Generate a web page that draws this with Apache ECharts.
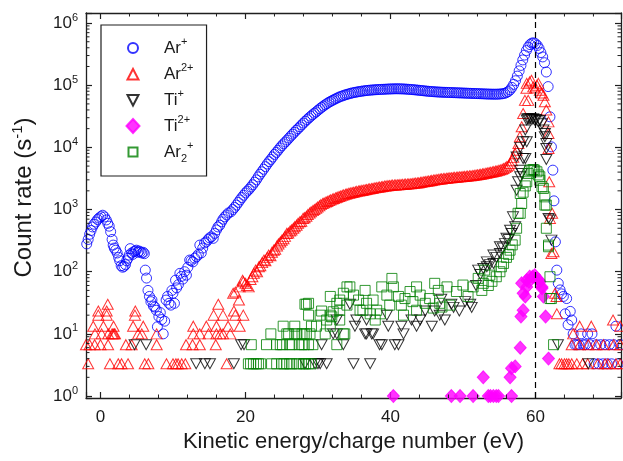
<!DOCTYPE html>
<html><head><meta charset="utf-8">
<script src="https://cdn.jsdelivr.net/npm/echarts@6/dist/echarts.min.js"></script>
<style>html,body{margin:0;padding:0;background:#fff}#c{width:623px;height:461px}</style>
</head><body><div id="c"></div>
<script>
// ---------- DATA (x = kinetic energy/charge, eV ; y = count rate, s^-1) ----------
const seriesNames = ['Ar+', 'Ar2+', 'Ti+', 'Ti2+', 'Ar2_+'];
const legendLabels = {'Ar+':'Ar{sup|+}','Ar2+':'Ar{sup|2+}','Ti+':'Ti{sup|+}','Ti2+':'Ti{sup|2+}','Ar2_+':'Ar{sub|2}{sup|+}'};
const xTickLabels = [0, 20, 40, 60];
const yTickExponents = [0, 1, 2, 3, 4, 5, 6];
const xMinorTicks = [4,8,12,16,24,28,32,36,44,48,52,56,64,68];
const yMinorTicks = [2,3,4,5,6,7,8,9,20,30,40,50,60,70,80,90,200,300,400,500,600,700,800,900,
  2000,3000,4000,5000,6000,7000,8000,9000,20000,30000,40000,50000,60000,70000,80000,90000,
  200000,300000,400000,500000,600000,700000,800000,900000];
const peakMarker = 60;

const arPlus = [
[-1.9,280],[-1.7,330],[-1.5,400],[-1.3,460],[-1.1,525],[-0.9,580],[-0.65,630],[-0.4,690],[-0.2,730],[0.05,770],
[0.3,810],[0.55,760],[0.8,680],[1.0,600],[1.2,540],[1.4,440],[1.6,330],[1.75,268],[1.9,240],[2.1,222],
[2.3,200],[2.5,170],[2.65,150],[2.85,125],[3.05,118],[3.25,122],[3.45,130],[3.6,150],[3.8,165],[3.95,185],
[4.1,235],[4.3,200],[4.45,190],[4.6,210],[4.8,215],[4.95,222],[5.15,205],[5.3,215],[5.5,209],[5.7,200],
[5.9,205],[6.05,195],[6.18,106],[6.35,79],[6.55,50],[6.75,40],[6.95,33],[7.1,35],[7.3,28],[7.5,27],
[7.7,24],[7.85,13],[8.05,19],[8.25,22],[8.45,17],[8.65,10],[8.85,16],[9.05,35],[9.25,40],[9.45,31],
[9.7,29],[9.85,50],[10.0,45],[10.2,31],[10.35,73],[10.5,55],[10.75,62],[10.95,94],[11.15,84],[11.35,76],
[11.6,100],[11.85,88],[12.05,118],[12.3,154],[12.5,150],[12.75,144],[13.0,165],[13.25,174],[13.5,190],[13.7,268],
[13.9,200],[14.1,240],[14.35,290],[14.6,302],[14.85,330],[15.05,350],[15.3,364],[15.55,344],[15.75,413],[16.0,470],
[16.2,525],[16.45,560],[16.7,635],[16.9,700],[17.15,763],[17.4,820],[17.65,880],
[18.0,920],[18.25,1000],[18.5,1080],[18.75,1180],[19.0,1300],[19.25,1430],[19.5,1560],[19.75,1700],[20.0,1850],[20.25,1980],
[20.5,2120],[20.75,2300],[21.0,2500],[21.25,2750],[21.5,3000],[21.75,3350],[22.0,3700],[22.25,4050],[22.5,4450],[22.75,4900],
[23.0,5400],[23.25,5900],[23.5,6400],[23.75,7000],[24.0,7700],[24.25,8300],[24.5,9000],[24.75,9800],[25.0,10600],[25.25,11400],
[25.5,12200],[25.75,13100],[26.0,14100],[26.25,15200],[26.5,16300],[26.75,17500],[27.0,18800],[27.25,20000],[27.5,21400],[27.75,23000],
[28.0,24600],[28.25,26300],[28.5,28000],[28.75,29800],[29.0,31600],[29.25,33500],[29.5,35400],[29.75,37300],[30.0,39500],[30.25,41800],
[30.5,44000],[30.75,46200],[31.0,48500],[31.25,50700],[31.5,53000],[31.75,55000],[32.0,57000],[32.25,59000],[32.5,61000],[32.75,63000],
[33.0,65000],[33.25,66600],[33.5,68200],[33.75,69800],[34.0,71200],[34.25,72600],[34.5,74000],[34.75,75200],[35.0,76300],[35.25,77300],
[35.5,78200],[35.75,79100],[36.0,80000],[36.25,80800],[36.5,81500],[36.75,82200],[37.0,82800],[37.25,83300],[37.5,83800],[37.75,84200],
[38.0,84600],[38.25,85000],[38.5,85300],[38.75,85600],[39.0,85900],[39.25,86200],[39.5,86500],[39.75,86800],[40.0,87000],[40.25,87200],
[40.5,87400],[40.75,87500],[41.0,87500],[41.25,87400],[41.5,87200],[41.75,87000],[42.0,86700],[42.25,86300],[42.5,85900],[42.75,85400],
[43.0,84900],[43.25,84400],[43.5,83900],[43.75,83300],[44.0,82700],[44.25,82100],[44.5,81500],[44.75,80900],[45.0,80300],[45.25,79800],
[45.5,79300],[45.75,78900],[46.0,78500],[46.25,78100],[46.5,77800],[46.75,77500],[47.0,77200],[47.25,77000],[47.5,76800],[47.75,76600],
[48.0,76400],[48.25,76200],[48.5,76000],[48.75,75800],[49.0,75600],[49.25,75400],[49.5,75200],[49.75,75000],[50.0,74800],[50.25,74600],
[50.5,74400],[50.75,74200],[51.0,74000],[51.25,73800],[51.5,73600],[51.75,73400],[52.0,73200],[52.25,73000],[52.5,72800],[52.75,72600],
[53.0,72400],[53.25,72200],[53.5,72000],[53.75,71900],[54.0,71800],[54.25,71700],[54.5,71700],[54.75,71800],[55.0,72000],[55.25,72400],
[55.5,73000],[55.75,74000],[56.0,76000],[56.25,79000],[56.5,84000],[56.75,92000],[57.0,103000],[57.25,118000],[57.5,140000],[57.75,170000],
[58.0,208000],[58.25,255000],[58.5,305000],[58.75,360000],[59.0,410000],[59.25,450000],[59.5,475000],[59.75,480000],[60.0,465000],[60.25,435000],
[60.5,390000],[60.75,335000],[61.0,285000],[61.25,230000],[61.5,163000],[61.75,95000],[62.0,31000],[62.2,10200],[62.4,4300],[62.55,1380],
[62.75,302],[62.95,106],[63.15,65],[63.4,51],[63.6,44],[63.85,40],[64.1,21],[64.3,37],[64.5,14],[64.8,23],
[65.0,16.7],[65.2,10],[65.45,6.7],[65.7,6.7],[66.0,6.7],[66.3,10],[66.6,6.7],[66.9,6.7],[67.2,10],[67.5,6.7],
[67.8,10],[68.1,3.3],[68.4,6.7],[68.7,3.3],[69.0,6.7],[69.3,3.3],[69.6,6.7],[69.9,3.3],[70.2,6.7],[70.5,3.3],
[70.8,6.7],[71.1,13.3],[71.4,3.3],[71.7,6.7]
];

const ar2Plus = [
[-2.0,6.7],[-1.7,3.3],[-1.5,6.7],[-1.0,13.3],[-0.8,6.7],[-0.76,10],[-0.3,20],[-0.3,23.3],[0.0,6.7],[0.16,10],
[0.4,13.3],[0.85,20],[0.85,23.3],[1.05,6.7],[1.08,10],[1.0,30],[1.3,3.3],[1.6,10],[1.75,10],[1.8,13.3],
[1.9,10],[2.0,10],[2.45,3.3],[2.9,3.3],[3.5,6.7],[3.8,3.3],[4.3,6.7],[4.5,13.3],[4.75,20],[4.8,23.3],
[5.2,10],[5.7,10],[5.9,13.3],[6.1,3.3],[6.6,3.3],[7.75,6.7],[7.75,10],[9.1,3.3],[10.0,3.3],[10.4,3.3],
[10.7,3.3],[11.2,3.3],[11.7,3.3],[11.8,6.7],[12.7,6.7],[12.8,10],[12.8,13.3],[13.7,6.7],[13.7,10],[14.6,13.3],
[14.9,10],[15.6,20],[15.9,6.7],[16.0,10],[16.0,13.3],[16.25,30],[16.5,10],[16.9,10],[16.9,20],[17.4,3.3],
[17.6,13.3],[17.9,10],[18.3,45],[18.4,23.3],[18.6,20],[18.6,47],[19.1,35],[19.2,13.3],[19.2,57],[19.6,73],
[19.7,20],[19.7,69],
[20.0,65],[20.2,60],[20.45,57],[20.7,75],[20.95,83],[21.15,94],[21.4,106],[21.6,100],[21.85,120],[22.05,125],
[22.3,140],[22.55,154],[22.75,150],[23.0,170],[23.2,185],[23.45,180],[23.65,205],[23.9,222],[24.1,230],[24.35,260],
[24.55,280],[24.8,300],[25.0,320],[25.25,340],[25.45,370],[25.7,413],[25.9,420],[26.15,450],[26.35,470],[26.6,500],
[26.8,530],[27.05,560],[27.25,600],[27.5,635],[27.7,650],[27.95,720],[28.15,740],[28.4,780],[28.6,830],[28.85,880],
[29.05,920],[29.3,960],[29.5,1000],[29.75,1050],[29.95,1100],[30.2,1150],[30.4,1200],[30.65,1250],[30.85,1280],[31.1,1320],
[31.3,1350],[31.55,1400],[31.75,1430],[32.0,1470],[32.2,1500],[32.45,1550],[32.65,1580],[32.9,1620],[33.1,1650],[33.35,1690],
[33.55,1720],[33.8,1760],[34.0,1790],[34.25,1820],[34.45,1850],[34.7,1880],[34.9,1900],[35.15,1930],[35.35,1960],[35.6,1990],
[35.8,2010],[36.05,2030],[36.25,2050],[36.5,2080],[36.7,2100],[36.95,2130],[37.15,2150],[37.4,2180],[37.6,2200],[37.85,2230],
[38.05,2250],[38.3,2280],[38.5,2300],[38.75,2330],[38.95,2350],[39.2,2380],[39.4,2400],[39.65,2420],[39.85,2440],[40.1,2460],
[40.3,2470],[40.55,2480],[40.75,2490],[41.0,2500],[41.2,2510],[41.45,2520],[41.65,2540],[41.9,2550],[42.1,2560],[42.35,2580],
[42.55,2590],[42.8,2600],[43.0,2620],[43.25,2640],[43.45,2660],[43.7,2680],[43.9,2700],[44.15,2730],[44.35,2760],[44.6,2790],
[44.8,2820],[45.05,2850],[45.25,2880],[45.5,2910],[45.7,2940],[45.95,2970],[46.15,3000],[46.4,3030],[46.6,3060],[46.85,3090],
[47.05,3110],[47.3,3140],[47.5,3160],[47.75,3190],[47.95,3210],[48.2,3230],[48.4,3250],[48.65,3270],[48.85,3290],[49.1,3310],
[49.3,3330],[49.55,3350],[49.75,3370],[50.0,3390],[50.2,3410],[50.45,3430],[50.65,3450],[50.9,3480],[51.1,3500],[51.35,3530],
[51.55,3560],[51.8,3590],[52.0,3620],[52.25,3660],[52.45,3700],[52.7,3740],[52.9,3780],[53.15,3830],[53.35,3880],[53.6,3930],
[53.8,3980],[54.05,4030],[54.25,4080],[54.5,4140],[54.7,4200],[54.95,4270],[55.15,4350],[55.4,4450],[55.6,4570],[55.85,4720],
[56.05,4900],[56.3,5150],[56.5,5500],[56.75,6100],[56.95,6900],[57.2,7900],[57.4,9000],[57.65,11500],[57.85,14800],[58.1,21400],
[58.3,35000],[58.55,57000],[58.75,89000],[58.8,107000],[59.0,57000],[59.2,113000],[59.45,120000],[59.7,94000],[59.95,90000],[60.2,100000],
[60.4,107000],[60.6,83000],[60.85,75000],[61.1,69000],[61.3,54000],[61.5,40000],[61.8,25700],[61.8,16700],[61.8,9600],[61.9,2800],
[62.0,720],[62.2,196],[62.3,870],[62.5,209],[62.7,45],[62.9,40],[62.95,21],[63.3,3.3],[63.6,3.3],[64.0,3.3],
[64.3,3.3],[64.6,3.3],[65.0,3.3],[65.0,6.7],[65.2,10],[65.7,3.3],[66.1,6.7],[66.1,13.3],[66.5,3.3],[67.2,3.3],
[67.3,6.7],[67.7,13.3],[68.4,6.7],[68.6,3.3],[69.4,6.7],[69.6,3.3],[70.0,3.3],[70.7,16.7],[70.8,6.7],[71.1,3.3],
[71.7,13.3],[71.7,6.7],[71.7,3.3]
];

const tiPlus = [
[4.7,6.7],[6.3,6.7],[13.2,3.3],[14.4,3.3],[15.1,3.3],[18.4,3.3],[19.4,6.7],[19.8,6.7],
[28.2,3.3],[29.6,3.3],[30.0,3.3],[30.3,3.3],[31.2,3.3],[34.9,3.3],[37.2,3.3],
[30.5,6.7],[33.5,6.7],[38.5,6.7],[38.8,6.7],[40.6,6.7],[41.1,6.7],
[32.1,10],[32.6,10],[36.5,10],[36.7,10],[37.4,10],[37.6,10],[41.8,10],
[35.1,13.3],[39.7,13.3],[41.5,13.3],[43.6,13.3],[45.7,13.3],
[32.6,16.7],[35.3,16.7],[36.7,16.7],[42.9,16.7],[44.1,16.7],[47.5,16.7],
[39.5,20],[44.8,23.3],[46.1,23.3],[34.4,30],[48.4,30],[48.7,26.7],[51.0,30],[51.2,26.7],
[46.8,20],[49.5,23.3],[50.3,33],[47.0,36],
[51.8,60],[52.1,106],[52.4,90],[52.8,113],[53.3,120],[53.3,144],[53.7,130],[54.2,136],[54.2,185],[54.6,170],
[55.1,196],[55.1,252],[55.5,240],[55.8,283],[56.0,344],[56.3,330],[56.5,466],[56.7,413],[56.9,763],[57.2,530],
[57.4,2050],[57.4,7000],[57.6,2800],[57.9,3370],[57.9,4300],[57.9,10000],[58.1,3800],[58.3,6600],[58.3,12300],[58.6,19000],
[58.6,6600],[58.8,12300],[58.8,27500],[58.9,29000],[59.1,28500],[59.3,29000],[59.5,28000],[59.7,29000],[59.9,27500],[60.1,28000],
[60.4,25700],[60.6,27000],[60.9,24000],[61.1,19000],[61.3,14800],[61.3,16700],[61.5,11500],[61.5,9600],[61.5,6400],[61.8,720],
[62.0,680],[62.2,322],[63.1,6.7],[67.3,3.3]
];

const ti2Plus = [
[40.4,1],[48.4,1],[49.6,1],[51.4,1],[52.8,2],[53.5,1],[53.8,1],[54.2,1],[54.6,1],[54.9,1],
[56.5,2],[56.7,1],[56.7,2.8],[57.2,3],[57.9,6],[58.0,19],[58.1,65],[58.3,24],[58.3,45],[58.6,40],
[58.8,57],[58.8,73],[59.1,69],[59.2,83],[59.6,83],[59.9,88],[60.2,78],[60.5,73],[60.6,69],[60.9,57],
[60.9,54],[61.1,40],[61.4,19],[61.8,4]
];

const ar2Dimer = [
[20.4,3.3],[20.7,3.3],[21.1,3.3],[21.5,3.3],[21.8,3.3],[22.1,3.3],[23.6,3.3],[24.3,3.3],[25.0,3.3],[25.3,3.3],
[25.7,3.3],[26.1,3.3],[26.4,3.3],[27.1,3.3],[27.4,3.3],[28.0,3.3],[28.3,3.3],[28.7,3.3],[29.1,3.3],
[20.8,6.7],[22.9,6.7],[24.3,6.7],[24.8,6.7],[25.1,6.7],[26.1,6.7],[26.4,6.7],[27.4,6.7],[27.8,6.7],[28.1,6.7],
[28.7,6.7],[29.3,6.7],[32.6,6.7],
[23.5,10],[25.7,10],[25.95,10],[26.8,10],[27.1,10],[27.8,10],[28.1,10],[28.4,10],[28.9,10],[31.0,10],[33.5,10],[33.7,10],
[25.2,13.3],[26.8,13.3],[29.1,13.3],[29.8,13.3],[31.7,13.3],
[28.7,20],[30.3,20],[31.7,20],[30.5,23.3],[28.2,30],[28.4,30],[28.7,31],
[31.2,16.7],[31.9,18.8],[31.7,40],[32.1,22.7],[32.6,31],[33.0,24],[33.0,16.7],[33.0,35],[33.5,45],[34.0,29],
[34.0,57],[34.4,57],[34.9,42],[35.6,35],[35.8,24],[36.2,24],[36.5,50],[36.7,31],[37.2,21],[37.6,35],
[37.9,16.7],[38.1,24],[38.6,21],[38.8,57],[39.5,42],[39.9,29],[40.2,78],[40.4,57],[41.1,40],[41.5,29],
[41.8,20],[42.0,37],[42.7,48],[43.1,33],[43.6,57],[43.6,24],[44.1,42],[44.8,31],[45.4,37],[45.9,26],
[46.1,65],[46.6,50],[46.8,31],[47.1,27],[47.8,57],[48.2,29],[49.1,48],[50.0,61],[50.7,40],[51.4,57],
[52.1,78],[52.6,50],[52.8,65],[53.0,106],[53.5,60],[53.7,88],[54.0,70],[54.6,83],[55.1,100],[55.3,120],
[55.6,136],[56.0,170],[56.3,190],[56.5,222],[56.8,270],[57.2,322],[57.4,500],[57.6,870],[57.9,870],[57.9,1810],
[58.1,1250],[58.3,1900],[58.6,2400],[58.8,2800],[59.0,3800],[59.2,4300],[59.5,4300],[59.7,4400],[59.9,4300],[60.2,4050],
[60.4,3600],[60.6,3370],[60.6,2960],[60.9,2330],[61.1,2180],[61.3,1600],[61.3,1180],[61.5,1180],[61.5,500],[61.8,268],
[61.8,252],[62.0,83],[62.0,37],[62.2,37],[62.5,6.7]
];

// ---------- CHART ----------
const FONT = '"Liberation Sans", Arial, Helvetica, sans-serif';
const AX = '#1f1f1f';
const TXT = '#1a1a1a';

const minorData = [];
xMinorTicks.forEach(v => minorData.push([0, v]));
yMinorTicks.forEach(v => minorData.push([1, v]));

const baseAxisLine = {show: true, onZero: false, lineStyle: {color: AX, width: 1.3}};
const baseTick = {show: true, inside: true, length: 6, lineStyle: {color: AX, width: 1.2}};

function openStyle(c) { return {color: 'rgba(255,255,255,0)', borderColor: c, borderWidth: 1}; }
// legend icons drawn inside a 14x14 box (leading moveTo points fix the box)
const iconCircle = 'path://M0,0M14,14M2,7A5,5,0,1,1,12,7A5,5,0,1,1,2,7Z';
const iconUp = 'path://M0,0M14,14M1.5,12.5L7,2L12.5,12.5Z';
const iconDown = 'path://M0,0M14,14M1.5,2L12.5,2L7,12.5Z';
const iconDiamond = 'path://M7,0L13.5,7L7,14L0.5,7Z';
const iconSquare = 'path://M0,0M14,14M2.5,2.5L11.5,2.5L11.5,11.5L2.5,11.5Z';

const chart = echarts.init(document.getElementById('c'), null, {renderer: 'canvas'});
chart.setOption({
  animation: false,
  backgroundColor: '#fff',
  textStyle: {fontFamily: FONT},
  grid: {left: 86, top: 13, right: 2, bottom: 63, containLabel: false, outerBoundsMode: 'none'},
  legend: {
    orient: 'vertical', left: 101, top: 25,
    data: [
      {name: 'Ar+', icon: iconCircle}, {name: 'Ar2+', icon: iconUp}, {name: 'Ti+', icon: iconDown},
      {name: 'Ti2+', icon: iconDiamond}, {name: 'Ar2_+', icon: iconSquare}
    ],
    selectedMode: false,
    itemWidth: 14, itemHeight: 14, itemGap: 2,
    padding: [11, 13, 12, 24],
    borderColor: AX, borderWidth: 1.2, borderRadius: 0, backgroundColor: '#fff',
    formatter: n => legendLabels[n],
    textStyle: {
      fontFamily: FONT, fontSize: 17, color: TXT, lineHeight: 24, padding: [0, 0, 0, 19],
      rich: {
        sup: {fontSize: 11, lineHeight: 12, verticalAlign: 'top', fontFamily: FONT, color: TXT},
        sub: {fontSize: 11, lineHeight: 12, verticalAlign: 'bottom', fontFamily: FONT, color: TXT}
      }
    }
  },
  xAxis: [{
    type: 'value', min: -2, max: 71.8, splitNumber: 4, position: 'bottom',
    name: 'Kinetic energy/charge number (eV)', nameLocation: 'middle', nameGap: 32,
    nameTextStyle: {fontFamily: FONT, fontSize: 22, color: TXT},
    axisLine: baseAxisLine, axisTick: baseTick, splitLine: {show: false},
    axisLabel: {margin: 11, fontFamily: FONT, fontSize: 17, color: TXT,
      formatter: v => (xTickLabels.indexOf(Math.round(v * 1000) / 1000) >= 0 ? String(v) : '')}
  }, {
    type: 'value', min: -2, max: 71.8, splitNumber: 4, position: 'top',
    axisLine: baseAxisLine, axisTick: baseTick, axisLabel: {show: false}, splitLine: {show: false}
  }],
  yAxis: [{
    type: 'log', logBase: 10, min: 0.93, max: 1.45e6, position: 'left',
    name: 'Count rate (s{sup|-1})', nameLocation: 'middle', nameGap: 48, nameRotate: 90,
    nameTextStyle: {fontFamily: FONT, fontSize: 24, color: TXT, lineHeight: 28, padding: [0, 0, 0, 16],
      rich: {sup: {fontSize: 15, lineHeight: 14, verticalAlign: 'top', fontFamily: FONT, color: TXT}}},
    axisLine: baseAxisLine, axisTick: baseTick, splitLine: {show: false},
    axisLabel: {margin: 8, fontFamily: FONT, fontSize: 17, color: TXT, lineHeight: 22,
      rich: {e: {fontSize: 11, lineHeight: 12, verticalAlign: 'top', fontFamily: FONT, color: TXT}},
      formatter: v => {
        const e = Math.round(Math.log10(v));
        if (Math.abs(Math.log10(v) - e) > 1e-6 || yTickExponents.indexOf(e) < 0) return '';
        return '10{e|' + e + '}';
      }}
  }, {
    type: 'log', logBase: 10, min: 0.93, max: 1.45e6, position: 'right',
    axisLine: baseAxisLine, axisTick: baseTick, axisLabel: {show: false}, splitLine: {show: false}
  }],
  series: [
    {name: 'Ar+', type: 'scatter', data: arPlus, symbol: 'circle', symbolSize: 10,
     itemStyle: openStyle('#0000ff'),
     markLine: {silent: true, symbol: ['none', 'none'], label: {show: false},
       lineStyle: {color: '#000', type: [6, 4], width: 1.2}, data: [{xAxis: peakMarker}]}},
    {name: 'Ar2+', type: 'scatter', data: ar2Plus, symbol: 'triangle', symbolSize: [11, 10],
     itemStyle: openStyle('#ff0000')},
    {name: 'Ti+', type: 'scatter', data: tiPlus, symbol: 'triangle', symbolRotate: 180, symbolSize: [11, 10],
     itemStyle: openStyle('#000000')},
    {name: 'Ti2+', type: 'scatter', data: ti2Plus, symbol: 'diamond', symbolSize: [12, 13],
     itemStyle: {color: '#ff00ff', borderColor: '#ff00ff', borderWidth: 1}},
    {name: 'Ar2_+', type: 'scatter', data: ar2Dimer, symbol: 'rect', symbolSize: 10,
     itemStyle: openStyle('#008000')},
    {type: 'custom', silent: true, clip: false, z: 10, data: minorData,
     renderItem: (params, api) => {
       const cs = params.coordSys;
       const kind = api.value(0), v = api.value(1);
       const st = {stroke: AX, lineWidth: 1};
       if (kind === 0) {
         const x = api.coord([v, 10])[0];
         return {type: 'group', children: [
           {type: 'line', shape: {x1: x, y1: cs.y + cs.height, x2: x, y2: cs.y + cs.height - 3.5}, style: st},
           {type: 'line', shape: {x1: x, y1: cs.y, x2: x, y2: cs.y + 3.5}, style: st}]};
       }
       const y = api.coord([0, v])[1];
       return {type: 'group', children: [
         {type: 'line', shape: {x1: cs.x, y1: y, x2: cs.x + 3.5, y2: y}, style: st},
         {type: 'line', shape: {x1: cs.x + cs.width, y1: y, x2: cs.x + cs.width - 3.5, y2: y}, style: st}]};
     }}
  ]
});
</script>
</body></html>
